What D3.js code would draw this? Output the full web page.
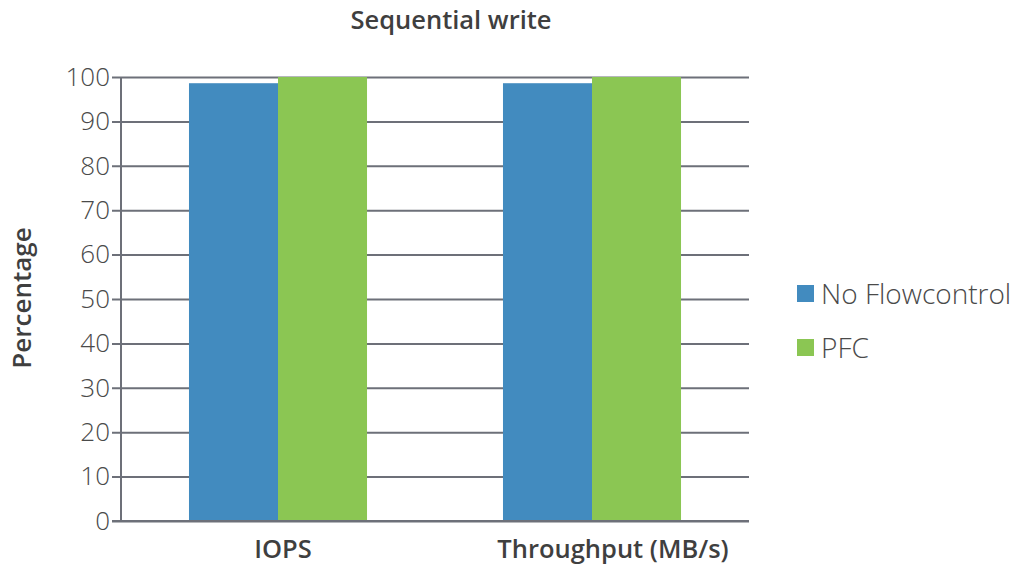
<!DOCTYPE html>
<html>
<head>
<meta charset="utf-8">
<script src="https://cdn.jsdelivr.net/npm/d3@7"></script>
<style>
  html, body { margin: 0; padding: 0; background: #fff; }
  svg { display: block; font-family: "Open Sans", Lato, sans-serif; }
</style>
</head>
<body>
<svg id="chart" width="1016" height="568"></svg>
<script>
// Chart data
const categories = ["IOPS", "Throughput (MB/s)"];
const seriesNames = ["No Flowcontrol", "PFC"];
const noFlowcontrol = [98.6, 98.6];
const pfc = [100, 100];
const yTicks = [0, 10, 20, 30, 40, 50, 60, 70, 80, 90, 100];
const colors = ["#428bbf", "#8bc653"];

const seriesValues = [noFlowcontrol, pfc];

const svg = d3.select("#chart");
const plotLeft = 121, plotRight = 749, plotTop = 77, plotBottom = 521;

const x0 = d3.scaleBand().domain(categories).range([plotLeft, plotRight])
  .paddingInner(0.433).paddingOuter(0.2165);
const x1 = d3.scaleBand().domain(seriesNames).range([0, x0.bandwidth()]);
const y = d3.scaleLinear().domain([0, 100]).range([plotBottom, plotTop]);

const gridColor = "#6d7079";

// Horizontal gridlines with tick stubs to the left of the axis
const yAxis = d3.axisLeft(y).tickValues(yTicks).tickSize(-(plotRight - plotLeft)).tickPadding(11);
const gy = svg.append("g").attr("transform", `translate(${plotLeft},0)`).call(yAxis);
gy.select(".domain").remove();
gy.selectAll(".tick line")
  .attr("x1", -9)
  .attr("stroke", gridColor).attr("stroke-width", 2);
gy.selectAll(".tick text")
  .attr("fill", "#4a4a4a").attr("font-size", 26).attr("font-weight", 300)
  .attr("font-family", "'Open Sans', sans-serif");

// Bars
categories.forEach((cat, ci) => {
  seriesNames.forEach((s, si) => {
    svg.append("rect")
      .attr("x", x0(cat) + x1(s))
      .attr("y", y(seriesValues[si][ci]))
      .attr("width", x1.bandwidth())
      .attr("height", y(0) - y(seriesValues[si][ci]))
      .attr("fill", colors[si]);
  });
});

// Vertical axis line
svg.append("line")
  .attr("x1", plotLeft).attr("x2", plotLeft)
  .attr("y1", y(100)).attr("y2", y(0))
  .attr("stroke", gridColor).attr("stroke-width", 2);

// Baseline redrawn over bars
svg.append("line")
  .attr("x1", plotLeft - 9).attr("x2", plotRight)
  .attr("y1", y(0)).attr("y2", y(0))
  .attr("stroke", gridColor).attr("stroke-width", 2);

// Category labels (nudged slightly right of the band centre)
const labelNudge = [5, 21];
svg.selectAll(".cat").data(categories).enter().append("text")
  .attr("x", (d, i) => x0(d) + x0.bandwidth() / 2 + labelNudge[i])
  .attr("y", 558)
  .attr("text-anchor", "middle")
  .attr("font-size", 25.5).attr("font-weight", 600)
  .attr("fill", "#3f3f3f")
  .text(d => d);

// Title
svg.append("text")
  .attr("x", 451).attr("y", 29)
  .attr("text-anchor", "middle")
  .attr("font-size", 25.5).attr("font-weight", 600)
  .attr("fill", "#3f3f3f")
  .text("Sequential write");

// Y axis title
svg.append("text")
  .attr("transform", "translate(31,298) rotate(-90)")
  .attr("text-anchor", "middle")
  .attr("font-size", 26).attr("font-weight", 600)
  .attr("fill", "#3f3f3f")
  .text("Percentage");

// Legend
const legend = svg.append("g");
seriesNames.forEach((s, i) => {
  const ly = 294 + i * 54;
  legend.append("rect")
    .attr("x", 797).attr("y", ly - 9)
    .attr("width", 17).attr("height", 17)
    .attr("fill", colors[i]);
  legend.append("text")
    .attr("x", 821).attr("y", ly + 10)
    .attr("font-size", 28).attr("font-weight", 300)
    .attr("fill", "#4a4a4a")
    .text(s);
});
</script>
</body>
</html>
